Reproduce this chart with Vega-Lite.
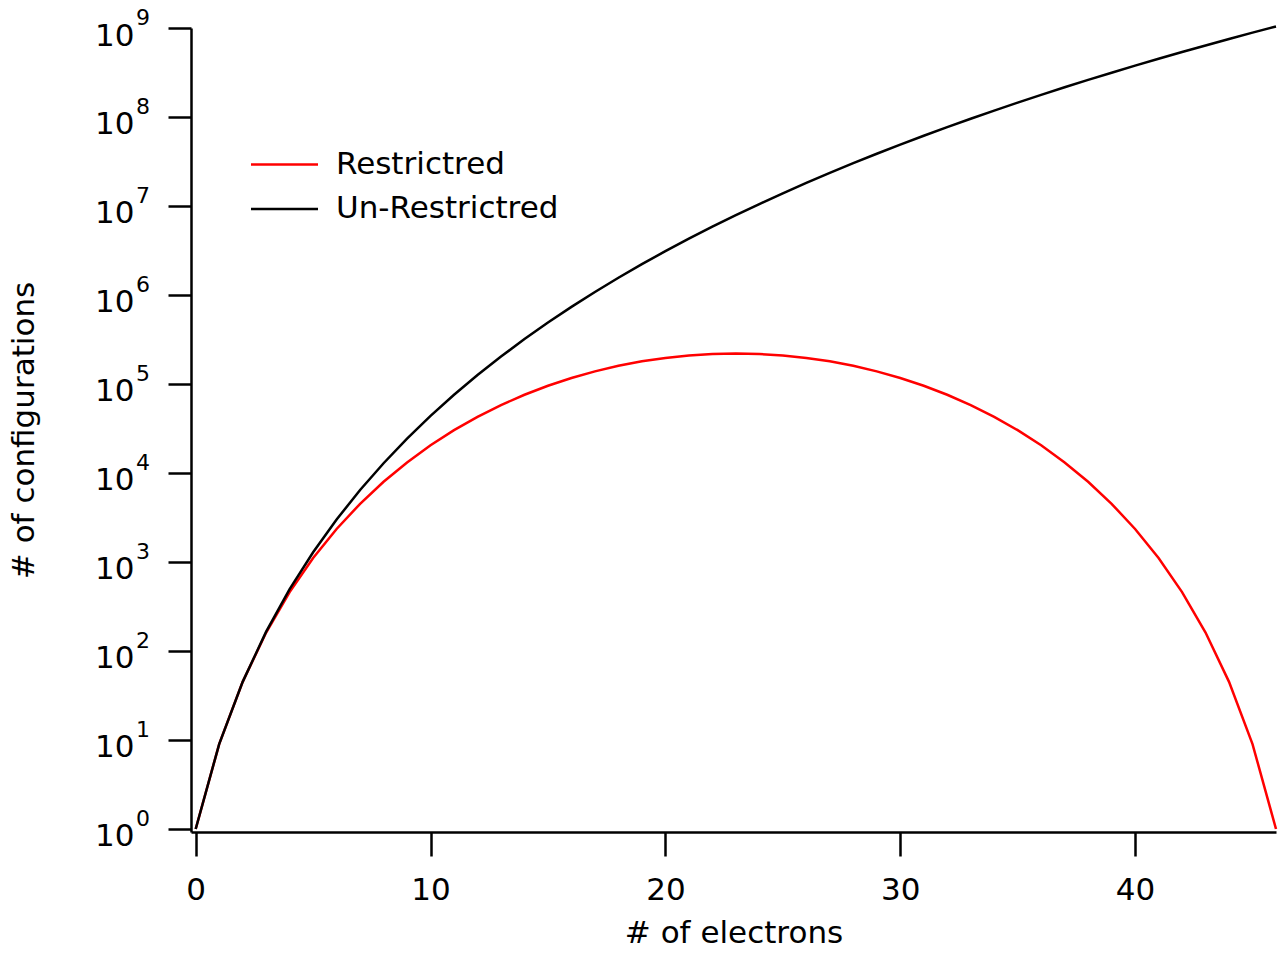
{
  "$schema": "https://vega.github.io/schema/vega-lite/v6.json",
  "width": 1085,
  "height": 804,
  "autosize": {"type": "none"},
  "padding": {"left": 191, "top": 28, "right": 12, "bottom": 122},
  "background": "white",
  "config": {"view": {"stroke": null}, "font": "DejaVu Sans"},
  "datasets": {
    "curves": [
      {"n":0,"series":"Restrictred","configs":1},
      {"n":1,"series":"Restrictred","configs":9},
      {"n":2,"series":"Restrictred","configs":45},
      {"n":3,"series":"Restrictred","configs":161},
      {"n":4,"series":"Restrictred","configs":459},
      {"n":5,"series":"Restrictred","configs":1107},
      {"n":6,"series":"Restrictred","configs":2349},
      {"n":7,"series":"Restrictred","configs":4506},
      {"n":8,"series":"Restrictred","configs":7965},
      {"n":9,"series":"Restrictred","configs":13149},
      {"n":10,"series":"Restrictred","configs":20469},
      {"n":11,"series":"Restrictred","configs":30265},
      {"n":12,"series":"Restrictred","configs":42750},
      {"n":13,"series":"Restrictred","configs":57960},
      {"n":14,"series":"Restrictred","configs":75713},
      {"n":15,"series":"Restrictred","configs":95580},
      {"n":16,"series":"Restrictred","configs":116883},
      {"n":17,"series":"Restrictred","configs":138723},
      {"n":18,"series":"Restrictred","configs":160035},
      {"n":19,"series":"Restrictred","configs":179658},
      {"n":20,"series":"Restrictred","configs":196425},
      {"n":21,"series":"Restrictred","configs":209270},
      {"n":22,"series":"Restrictred","configs":217342},
      {"n":23,"series":"Restrictred","configs":220095},
      {"n":24,"series":"Restrictred","configs":217342},
      {"n":25,"series":"Restrictred","configs":209270},
      {"n":26,"series":"Restrictred","configs":196425},
      {"n":27,"series":"Restrictred","configs":179658},
      {"n":28,"series":"Restrictred","configs":160035},
      {"n":29,"series":"Restrictred","configs":138723},
      {"n":30,"series":"Restrictred","configs":116883},
      {"n":31,"series":"Restrictred","configs":95580},
      {"n":32,"series":"Restrictred","configs":75713},
      {"n":33,"series":"Restrictred","configs":57960},
      {"n":34,"series":"Restrictred","configs":42750},
      {"n":35,"series":"Restrictred","configs":30265},
      {"n":36,"series":"Restrictred","configs":20469},
      {"n":37,"series":"Restrictred","configs":13149},
      {"n":38,"series":"Restrictred","configs":7965},
      {"n":39,"series":"Restrictred","configs":4506},
      {"n":40,"series":"Restrictred","configs":2349},
      {"n":41,"series":"Restrictred","configs":1107},
      {"n":42,"series":"Restrictred","configs":459},
      {"n":43,"series":"Restrictred","configs":161},
      {"n":44,"series":"Restrictred","configs":45},
      {"n":45,"series":"Restrictred","configs":9},
      {"n":46,"series":"Restrictred","configs":1},
      {"n":0,"series":"Un-Restrictred","configs":1},
      {"n":1,"series":"Un-Restrictred","configs":9},
      {"n":2,"series":"Un-Restrictred","configs":45},
      {"n":3,"series":"Un-Restrictred","configs":165},
      {"n":4,"series":"Un-Restrictred","configs":495},
      {"n":5,"series":"Un-Restrictred","configs":1287},
      {"n":6,"series":"Un-Restrictred","configs":3003},
      {"n":7,"series":"Un-Restrictred","configs":6435},
      {"n":8,"series":"Un-Restrictred","configs":12870},
      {"n":9,"series":"Un-Restrictred","configs":24310},
      {"n":10,"series":"Un-Restrictred","configs":43758},
      {"n":11,"series":"Un-Restrictred","configs":75582},
      {"n":12,"series":"Un-Restrictred","configs":125970},
      {"n":13,"series":"Un-Restrictred","configs":203490},
      {"n":14,"series":"Un-Restrictred","configs":319770},
      {"n":15,"series":"Un-Restrictred","configs":490314},
      {"n":16,"series":"Un-Restrictred","configs":735471},
      {"n":17,"series":"Un-Restrictred","configs":1081575},
      {"n":18,"series":"Un-Restrictred","configs":1562275},
      {"n":19,"series":"Un-Restrictred","configs":2220075},
      {"n":20,"series":"Un-Restrictred","configs":3108105},
      {"n":21,"series":"Un-Restrictred","configs":4292145},
      {"n":22,"series":"Un-Restrictred","configs":5852925},
      {"n":23,"series":"Un-Restrictred","configs":7888725},
      {"n":24,"series":"Un-Restrictred","configs":10518300},
      {"n":25,"series":"Un-Restrictred","configs":13884156},
      {"n":26,"series":"Un-Restrictred","configs":18156204},
      {"n":27,"series":"Un-Restrictred","configs":23535820},
      {"n":28,"series":"Un-Restrictred","configs":30260340},
      {"n":29,"series":"Un-Restrictred","configs":38608020},
      {"n":30,"series":"Un-Restrictred","configs":48903492},
      {"n":31,"series":"Un-Restrictred","configs":61523748},
      {"n":32,"series":"Un-Restrictred","configs":76904685},
      {"n":33,"series":"Un-Restrictred","configs":95548245},
      {"n":34,"series":"Un-Restrictred","configs":118030185},
      {"n":35,"series":"Un-Restrictred","configs":145008513},
      {"n":36,"series":"Un-Restrictred","configs":177232627},
      {"n":37,"series":"Un-Restrictred","configs":215553195},
      {"n":38,"series":"Un-Restrictred","configs":260932815},
      {"n":39,"series":"Un-Restrictred","configs":314457495},
      {"n":40,"series":"Un-Restrictred","configs":377348994},
      {"n":41,"series":"Un-Restrictred","configs":450978066},
      {"n":42,"series":"Un-Restrictred","configs":536878650},
      {"n":43,"series":"Un-Restrictred","configs":636763050},
      {"n":44,"series":"Un-Restrictred","configs":752538150},
      {"n":45,"series":"Un-Restrictred","configs":886322710},
      {"n":46,"series":"Un-Restrictred","configs":1040465790}
    ],
    "exps": [
      {"exp":"0","n":-0.2,"configs":1},
      {"exp":"1","n":-0.2,"configs":10},
      {"exp":"2","n":-0.2,"configs":100},
      {"exp":"3","n":-0.2,"configs":1000},
      {"exp":"4","n":-0.2,"configs":10000},
      {"exp":"5","n":-0.2,"configs":100000},
      {"exp":"6","n":-0.2,"configs":1000000},
      {"exp":"7","n":-0.2,"configs":10000000},
      {"exp":"8","n":-0.2,"configs":100000000},
      {"exp":"9","n":-0.2,"configs":1000000000}
    ]
  },
  "layer": [
    {
      "data": {"name": "curves"},
      "mark": {"type": "line", "strokeWidth": 2.5, "clip": false},
      "encoding": {
        "x": {
          "field": "n", "type": "quantitative",
          "scale": {"domain": [-0.2, 46], "nice": false, "zero": false},
          "axis": {
            "title": "# of electrons", "values": [0, 10, 20, 30, 40],
            "grid": false, "tickSize": 24, "tickWidth": 2.5, "tickColor": "black",
            "domainWidth": 2.5, "domainColor": "black",
            "labelFontSize": 31, "labelFont": "DejaVu Sans", "labelColor": "black", "labelPadding": 19,
            "titleFontSize": 31, "titleFont": "DejaVu Sans", "titleFontWeight": "normal", "titleColor": "black", "titlePadding": 13
          }
        },
        "y": {
          "field": "configs", "type": "quantitative",
          "scale": {"type": "log", "domain": [0.925, 1000000000], "nice": false},
          "axis": {
            "title": "# of configurations",
            "values": [1, 10, 100, 1000, 10000, 100000, 1000000, 10000000, 100000000, 1000000000],
            "labelExpr": "'10'",
            "grid": false, "tickSize": 23, "tickWidth": 2.5, "tickColor": "black",
            "domainWidth": 2.5, "domainColor": "black",
            "labelFontSize": 31, "labelFont": "DejaVu Sans", "labelColor": "black", "labelPadding": 34, "labelOffset": 8,
            "labelOverlap": false, "labelBound": false, "labelFlush": false,
            "titleFontSize": 31, "titleFont": "DejaVu Sans", "titleFontWeight": "normal", "titleColor": "black", "titlePadding": 54
          }
        },
        "color": {
          "field": "series", "type": "nominal",
          "scale": {"domain": ["Restrictred", "Un-Restrictred"], "range": ["#ff0000", "#000000"]},
          "legend": {
            "title": null, "orient": "none", "legendX": 78, "legendY": 121,
            "symbolType": "M-4,0H4", "symbolSize": 280.6, "symbolStrokeWidth": 2.5, "symbolFillColor": "transparent",
            "labelFontSize": 31, "labelFont": "DejaVu Sans", "labelColor": "black", "labelOffset": 36, "labelLimit": 0,
            "rowPadding": 12.5, "padding": 0
          }
        }
      }
    },
    {
      "data": {"name": "exps"},
      "mark": {"type": "text", "fontSize": 22, "font": "DejaVu Sans", "align": "left", "baseline": "alphabetic", "dx": -55, "dy": -3, "color": "black", "clip": false},
      "encoding": {
        "x": {"field": "n", "type": "quantitative"},
        "y": {"field": "configs", "type": "quantitative"},
        "text": {"field": "exp", "type": "nominal"}
      }
    }
  ]
}
